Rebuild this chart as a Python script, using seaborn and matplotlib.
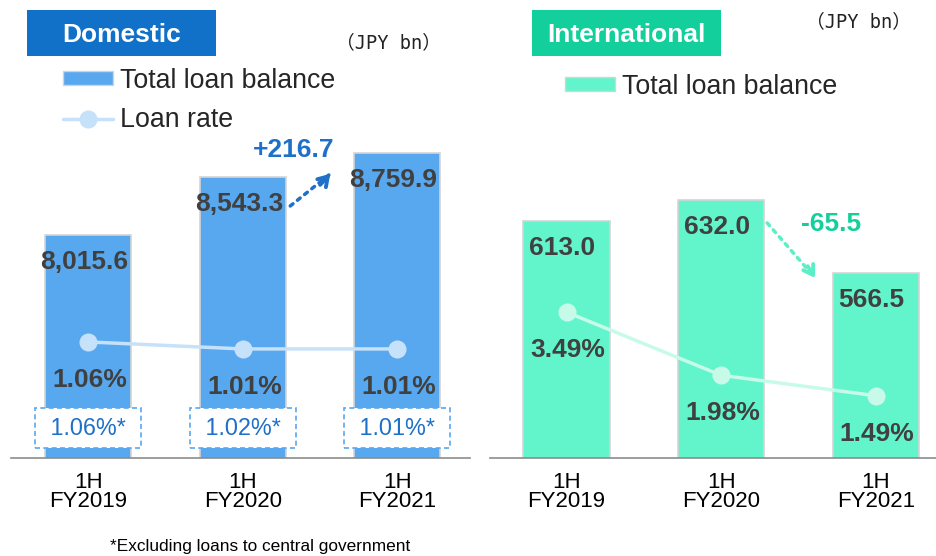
import numpy as np
import matplotlib
matplotlib.use('Agg')
import matplotlib.pyplot as plt
import matplotlib.transforms as mtransforms
import seaborn as sns
from matplotlib.patches import Patch, Rectangle
from matplotlib.lines import Line2D

# data
periods = ['1H\nFY2019', '1H\nFY2020', '1H\nFY2021']
dom_balance = [8015.6, 8543.3, 8759.9]
dom_rate = [1.06, 1.01, 1.01]
dom_rate_excl = [1.06, 1.02, 1.01]
int_balance = [613.0, 632.0, 566.5]
int_rate = [3.49, 1.98, 1.49]
dom_change = '+216.7'
int_change = '-65.5'

# colours
DOM_BAR = '#58A8F0'
DOM_HEAD = '#1170C8'
DOM_LINE = '#C6E1FA'
DOM_TXT = '#1F70C8'
INT_BAR = '#62F5CB'
INT_HEAD = '#12CF9B'
INT_LINE = '#C8FAEA'
INT_ARROW = '#5CEEC4'
LABEL = '#404040'

sns.set_theme(style='white')
plt.rcParams['font.family'] = ['Liberation Sans', 'DejaVu Sans']

fig = plt.figure(figsize=(9.36, 5.56), dpi=100)


def panel(rect, xlim, balance, bal_lim, rate, rate_lim, bar_color, line_color):
    ax = fig.add_axes(rect)
    sns.barplot(x=periods, y=balance, ax=ax, color=bar_color, saturation=1,
                width=0.557, edgecolor='#d4d4d4', linewidth=1.2)
    ax.set_ylim(*bal_lim)
    ax2 = ax.twinx()
    sns.lineplot(x=np.arange(len(rate)), y=rate, ax=ax2, color=line_color,
                 linewidth=2.5, marker='o', markersize=13, markeredgewidth=0)
    ax2.set_ylim(*rate_lim)
    for a in (ax, ax2):
        for s in ['top', 'right', 'left', 'bottom']:
            a.spines[s].set_visible(False)
        a.set_yticks([])
        a.set_ylabel('')
        a.set_xlabel('')
        a.grid(False)
    ax.spines['bottom'].set_visible(True)
    ax.spines['bottom'].set_color('#8c8c8c')
    ax.spines['bottom'].set_linewidth(1.2)
    ax.set_xticks(range(len(periods)), labels=periods, linespacing=0.9)
    ax.set_xlim(*xlim)
    ax.tick_params(axis='x', length=0, pad=10, labelsize=16, labelcolor='black')

    # value labels
    for i, v in enumerate(balance):
        ax.annotate(f'{v:,.1f}', (i, v), xytext=(-4, -27), textcoords='offset pixels',
                    ha='center', va='center', fontsize=19, fontweight='bold', color=LABEL)
    for i, r in enumerate(rate):
        ax2.annotate(f'{r:.2f}%', (i, r), xytext=(1.5, -38), textcoords='offset pixels',
                     ha='center', va='center', fontsize=19, fontweight='bold', color=LABEL)
    return ax, ax2


# domestic
ax_d, ax_d2 = panel([11 / 936, 0.1763, 459 / 936, 318 / 556], (-0.5, 2.47),
                    dom_balance, (5992, 8877), dom_rate, (0.231, 2.503), DOM_BAR, DOM_LINE)
trans = mtransforms.blended_transform_factory(ax_d2.transData, ax_d2.transAxes)
for i, r in enumerate(dom_rate_excl):
    ax_d2.text(i, 0.094, f' {r:.2f}%* ', transform=trans, ha='center', va='center',
               fontsize=16.8, color=DOM_TXT,
               bbox=dict(boxstyle='square,pad=0.38', facecolor='white', edgecolor=DOM_BAR,
                         linestyle=(0, (3, 2)), linewidth=1.2))

ax_d2.annotate('', xy=(1.566, dom_balance[2] - 190), xytext=(1.307, dom_balance[1] - 265),
               xycoords=ax_d.transData, textcoords=ax_d.transData,
               arrowprops=dict(arrowstyle='-', linestyle=':', lw=2.5, color=DOM_TXT,
                               shrinkA=0, shrinkB=0))
ax_d2.annotate('', xy=(1.566, dom_balance[2] - 190), xytext=(1.50, dom_balance[2] - 290),
               xycoords=ax_d.transData, textcoords=ax_d.transData,
               arrowprops=dict(arrowstyle='->,head_length=0.55,head_width=0.35', lw=2.8,
                               color=DOM_TXT, shrinkA=0, shrinkB=0))
ax_d2.text(1.327, dom_balance[2] + 22, dom_change, transform=ax_d.transData,
           ha='center', va='center', fontsize=19, fontweight='bold', color=DOM_TXT)

# international
ax_i, ax_i2 = panel([490 / 936, 0.1763, 446 / 936, 318 / 556], (-0.495, 2.39),
                    int_balance, (400.5, 685.7), int_rate, (0, 7.61), INT_BAR, INT_LINE)
ax_i2.annotate('', xy=(1.608, int_balance[2] - 4.5), xytext=(1.298, int_balance[1] - 20.7),
               xycoords=ax_i.transData, textcoords=ax_i.transData,
               arrowprops=dict(arrowstyle='-', linestyle=':', lw=2.5, color=INT_ARROW,
                               shrinkA=0, shrinkB=0))
ax_i2.annotate('', xy=(1.608, int_balance[2] - 4.5), xytext=(1.56, int_balance[2] + 6),
               xycoords=ax_i.transData, textcoords=ax_i.transData,
               arrowprops=dict(arrowstyle='->,head_length=0.55,head_width=0.35', lw=2.8,
                               color=INT_ARROW, shrinkA=0, shrinkB=0))
ax_i2.text(1.712, int_balance[1] - 21.5, int_change, transform=ax_i.transData,
           ha='center', va='center', fontsize=19, fontweight='bold', color=INT_HEAD)

# header boxes
fig.add_artist(Rectangle((27 / 936, 1 - 56 / 556), 189 / 936, 46 / 556,
                         transform=fig.transFigure, facecolor=DOM_HEAD, edgecolor='none'))
fig.text(121.5 / 936, 1 - 35 / 556, 'Domestic', ha='center', va='center',
         fontsize=19, fontweight='bold', color='white')
fig.add_artist(Rectangle((532 / 936, 1 - 56 / 556), 189 / 936, 46 / 556,
                         transform=fig.transFigure, facecolor=INT_HEAD, edgecolor='none'))
fig.text(626.5 / 936, 1 - 35 / 556, 'International', ha='center', va='center',
         fontsize=19, fontweight='bold', color='white')

jpy_font = ['DejaVu Sans Mono', 'Noto Sans CJK JP']
fig.text(388 / 936, 1 - 43 / 556, '（JPY bn）', ha='center', va='center', fontsize=13.5,
         family=jpy_font, color='#222222')
fig.text(858 / 936, 1 - 22 / 556, '（JPY bn）', ha='center', va='center', fontsize=13.5,
         family=jpy_font, color='#222222')

# legends
fig.legend([Patch(facecolor=DOM_BAR, edgecolor='#d4d4d4'),
            Line2D([], [], color=DOM_LINE, lw=2.5, marker='o', markersize=13, markeredgewidth=0)],
           ['Total loan balance', 'Loan rate'], loc='upper left',
           bbox_to_anchor=(63 / 936, 1 - 68 / 556), frameon=False, fontsize=19.3,
           handlelength=1.87, handleheight=0.42, handletextpad=0.26, labelspacing=0.5,
           borderpad=0, borderaxespad=0)
fig.legend([Patch(facecolor=INT_BAR, edgecolor='#d4d4d4')], ['Total loan balance'],
           loc='upper left', bbox_to_anchor=(565 / 936, 1 - 74 / 556), frameon=False,
           fontsize=19.3, handlelength=1.87, handleheight=0.42, handletextpad=0.26,
           borderpad=0, borderaxespad=0)

fig.text(260 / 936, 1 - 546 / 556, '*Excluding loans to central government',
         ha='center', va='center', fontsize=12.4, color='black')

fig.savefig('out.png', dpi=100)
